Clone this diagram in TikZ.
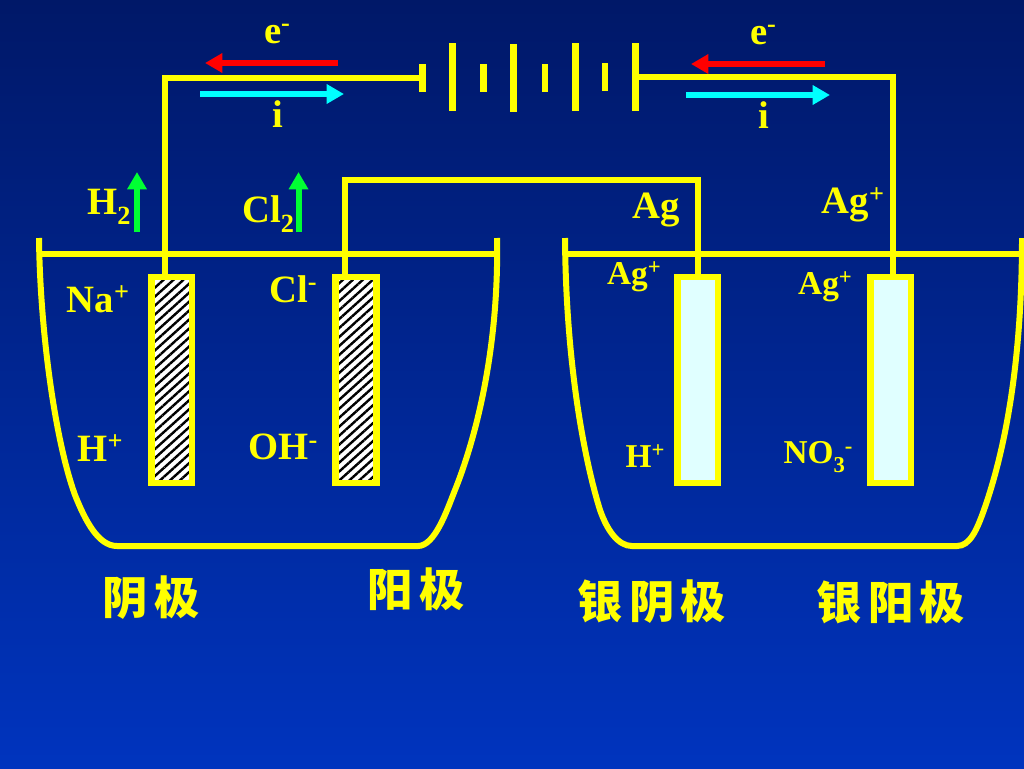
\documentclass[tikz,border=0pt]{standalone}
\usepackage{fontspec}
\setmainfont{Liberation Serif}
\newfontfamily\cjk[LetterSpace=14]{Noto Sans CJK SC}
\usetikzlibrary{arrows.meta,patterns.meta}
\definecolor{bgtop}{RGB}{0,24,104}
\definecolor{bgbottom}{RGB}{0,52,190}
\definecolor{wireyellow}{RGB}{255,255,0}
\definecolor{silverfill}{RGB}{224,255,255}
\definecolor{gasgreen}{RGB}{0,255,51}
\definecolor{currentcyan}{RGB}{0,255,255}
\definecolor{electronred}{RGB}{255,0,0}
\newcommand{\ionup}[1]{\raisebox{0.3em}{\scalebox{0.68}{#1}}}
\newcommand{\iondown}[1]{\raisebox{-0.27em}{\scalebox{0.68}{#1}}}

\tikzset{
  wire/.style = {draw=wireyellow, line width=4.5pt, line join=miter},
  vessel/.style = {draw=wireyellow, line width=4.5pt},
  plate/.style = {fill=wireyellow, inner sep=0pt, minimum width=5pt},
  electrode/.style = {draw=wireyellow, line width=5pt, inner sep=0pt,
    minimum width=30.5pt, minimum height=154.5pt},
  carbon/.style = {electrode, preaction={fill=white},
    preaction={pattern={Lines[angle=42,distance=5pt,line width=1.8pt]},pattern color=black}},
  silver/.style = {electrode, fill=silverfill},
  flow/.style = {line width=4.5pt, -{Triangle[length=13pt,width=14pt]}},
  ion/.style = {text=wireyellow, font=\bfseries\fontsize{29}{29}\selectfont, inner sep=0pt},
  smallion/.style = {text=wireyellow, font=\bfseries\fontsize{25}{25}\selectfont, inner sep=0pt},
  tag/.style = {text=wireyellow, font=\cjk\bfseries\fontsize{34}{34}\selectfont, inner sep=0pt}
}

\begin{document}
\begin{tikzpicture}[x=0.75pt,y=-0.75pt]
  \useasboundingbox (0,0) rectangle (1024,768);
  \shade[top color=bgtop, bottom color=bgbottom] (0,0) rectangle (1024,768);

  % battery
  \foreach \px/\py/\pname in {452.5/77/longA,513.5/78/longB,575.5/77/longC}
    \node[plate, minimum height=51pt] (\pname) at (\px,\py) {};
  \node[plate, minimum height=51pt] (plateR) at (635.5,76.5) {};
  \node[plate, minimum height=21pt] (plateL) at (422.5,77.5) {};
  \foreach \px/\py/\pname in {483.5/78/shortA,545/77.5/shortB,605/76.5/shortC}
    \node[plate, minimum height=21pt] (\pname) at (\px,\py) {};

  % electrodes
  \node[carbon] (cathode) at (171.5,380) {};
  \node[carbon] (anode) at (356,380) {};
  \node[silver] (agcathode) at (697.5,380) {};
  \node[silver] (aganode) at (890.5,380) {};

  % wires
  \coordinate (wireA) at (165,274);
  \coordinate (wireB) at (345,274);
  \coordinate (wireC) at (698,274);
  \coordinate (wireD) at (893,274);
  \draw[wire] (wireA) |- (plateL.center);
  \draw[wire] (wireD) |- (plateR.center);
  \draw[wire] (wireB) -- ++(0,-94) -| (wireC);

  % vessels
  \coordinate (lipA) at (39,238);
  \coordinate (lipB) at (497,238);
  \coordinate (lipC) at (565,238);
  \coordinate (lipD) at (1022,238);
  \draw[vessel] (lipA) .. controls (40,330) and (55,440) .. (75,495)
    .. controls (85,520) and (98,546) .. (117,546) -- (418,546)
    .. controls (435,546) and (447,510) .. (455,490)
    .. controls (479,430) and (499,340) .. (lipB);
  \draw[vessel] (lipC) .. controls (566,370) and (586,465) .. (600,510)
    .. controls (607,530) and (618,546) .. (632,546) -- (957,546)
    .. controls (970,546) and (977,530) .. (985,507)
    .. controls (1003,455) and (1022,370) .. (lipD);
  \draw[vessel] (lipA |- 0,254) -- (lipB |- 0,254);
  \draw[vessel] (lipC |- 0,254) -- (1024,254);

  % current and electrons
  \coordinate (redA) at (338,63);
  \coordinate (redB) at (205,63);
  \coordinate (cyanA) at (200,94);
  \coordinate (cyanB) at (344,94);
  \coordinate (redC) at (825,64);
  \coordinate (redD) at (691,64);
  \coordinate (cyanC) at (686,95);
  \coordinate (cyanD) at (830,95);
  \draw[flow, electronred] (redA) -- (redB);
  \draw[flow, currentcyan] (cyanA) -- (cyanB);
  \draw[flow, electronred] (redC) -- (redD);
  \draw[flow, currentcyan] (cyanC) -- (cyanD);
  \node[ion] (eA) at (277,34) {e\ionup{-}};
  \node[ion] (iA) at (277.5,114) {i};
  \node[ion] (eB) at (763,35) {e\ionup{-}};
  \node[ion] (iB) at (763.5,115) {i};

  % gases
  \coordinate (gasA) at (137,232);
  \coordinate (gasB) at (298.5,232);
  \draw[flow, gasgreen] (gasA) -- ++(0,-60);
  \draw[flow, gasgreen] (gasB) -- ++(0,-60);
  \node[ion] (hydrogen) at (109,207) {H\iondown{2}};
  \node[ion] (chlorine) at (268,214) {Cl\iondown{2}};
  \node[ion] (silvermetal) at (656,210) {Ag};
  \node[ion] (silverion) at (853,205) {Ag\ionup{+}};

  % ions
  \node[ion] (sodium) at (98,299) {Na\ionup{+}};
  \node[ion] (chloride) at (293,289) {Cl\ionup{-}};
  \node[ion] (proton) at (100,448) {H\ionup{+}};
  \node[ion] (hydroxide) at (283,447) {OH\ionup{-}};
  \node[smallion] (silverionA) at (634,277) {Ag\ionup{+}};
  \node[smallion] (silverionB) at (825,287) {Ag\ionup{+}};
  \node[smallion] (protonB) at (645,456) {H\ionup{+}};
  \node[smallion] (nitrate) at (818,457) {NO\iondown{3}\ionup{-}};

  % names
  \node[tag] (cathodetag) at (151,598) {阴极};
  \node[tag] (anodetag) at (416,589) {阳极};
  \node[tag] (agcathodetag) at (652,602) {银阴极};
  \node[tag] (aganodetag) at (891,602) {银阳极};
\end{tikzpicture}
\end{document}
